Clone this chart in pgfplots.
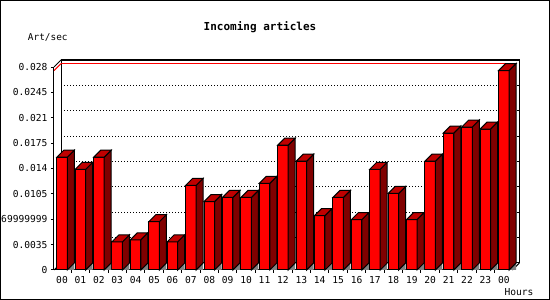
\documentclass[border=0pt]{standalone}
\usepackage{pgfplots}
\pgfplotsset{compat=1.18}
\usepackage{pgfplotstable}
\usepackage{fontspec}
\newfontfamily\monofont{DejaVu Sans Mono}
\definecolor{barfront}{HTML}{FF0000}
\definecolor{bartop}{HTML}{C00000}
\definecolor{barside}{HTML}{800000}
\definecolor{floorgray}{HTML}{808080}
\pgfplotstableread{
x v
0 0.015556
1 0.013889
2 0.015556
3 0.003889
4 0.004167
5 0.006667
6 0.003889
7 0.011667
8 0.009444
9 0.01
10 0.01
11 0.011944
12 0.017222
13 0.015
14 0.0075
15 0.01
16 0.006944
17 0.013889
18 0.010556
19 0.006944
20 0.015
21 0.018889
22 0.019722
23 0.019444
24 0.0275
}\datatable
\newdimen\barH
\newdimen\barHd
\pgfdeclareplotmark{bar3d}{%
  \barH=\pgfplotspointmetatransformed pt\relax
  \barH=0.203\barH
  \barHd=7pt\relax
  \advance\barHd by -\barH
  \pgfsetlinewidth{1pt}%
  \pgfsetstrokecolor{black}%
  \pgfpathmoveto{\pgfqpoint{5.25pt}{-\barH}}%
  \pgfpathlineto{\pgfqpoint{12.25pt}{-\barH}}%
  \pgfpathlineto{\pgfqpoint{12.25pt}{\barHd}}%
  \pgfpathclose
  \pgfsetfillcolor{floorgray}\pgfusepath{fill}%
  \pgfpathmoveto{\pgfqpoint{5.25pt}{0pt}}%
  \pgfpathlineto{\pgfqpoint{12.25pt}{7pt}}%
  \pgfpathlineto{\pgfqpoint{12.25pt}{\barHd}}%
  \pgfpathlineto{\pgfqpoint{5.25pt}{-\barH}}%
  \pgfpathclose
  \pgfsetfillcolor{barside}\pgfusepath{fill,stroke}%
  \pgfpathmoveto{\pgfqpoint{-5.25pt}{0pt}}%
  \pgfpathlineto{\pgfqpoint{5.25pt}{0pt}}%
  \pgfpathlineto{\pgfqpoint{12.25pt}{7pt}}%
  \pgfpathlineto{\pgfqpoint{1.75pt}{7pt}}%
  \pgfpathclose
  \pgfsetfillcolor{bartop}\pgfusepath{fill,stroke}%
}
\begin{document}
\begin{tikzpicture}
\useasboundingbox (0,0) rectangle (550pt,300pt);
\clip (0,0) rectangle (550pt,300pt);
% back wall
\begin{axis}[at={(61pt,37pt)}, anchor=south west, scale only axis,
  width=458.3pt, height=203pt,
  xmin=-0.435, xmax=24.46, ymin=0, ymax=0.028, clip=false,
  axis line style={line width=1pt},
  scaled x ticks=false, scaled y ticks=false,
  xtick=\empty,
  ytick={0.0035,0.007,0.0105,0.014,0.0175,0.021,0.0245},
  yticklabels={}, ytick pos=right, tick align=inside,
  major tick length=2pt, tick style={black, line width=1pt},
  ymajorgrids, grid style={black, line width=1pt, dash pattern=on 1pt off 2pt},
]
\addplot[red, line width=1pt] coordinates {(-0.435,0.0275) (24,0.0275)};
\draw[red, line width=1pt] ([shift={(-7pt,-7pt)}]axis cs:-0.435,0.0275) -- (axis cs:-0.435,0.0275);
\draw[line width=1pt] ([shift={(-7pt,-7pt)}]axis cs:-0.435,0) -- (axis cs:-0.435,0);
\draw[line width=1pt] ([shift={(-7pt,-7pt)}]axis cs:-0.435,0.028) -- (axis cs:-0.435,0.028);
\draw[line width=1pt] ([shift={(-7pt,-7pt)}]axis cs:24.46,0) -- (axis cs:24.46,0);
\end{axis}
% front plane with bars
\begin{axis}[at={(54pt,30pt)}, anchor=south west, scale only axis,
  width=458.3pt, height=203pt,
  xmin=-0.435, xmax=24.46, ymin=0, ymax=0.028, clip=false,
  axis lines=left, axis line style={-, line width=1pt},
  scaled x ticks=false, scaled y ticks=false,
  tick align=outside, major tick length=3pt, minor tick length=3pt,
  tick style={black, line width=1pt},
  xtick={0,...,24},
  xticklabels={00,01,02,03,04,05,06,07,08,09,10,11,12,13,14,15,16,17,18,19,20,21,22,23,00},
  major x tick style={draw=none},
  minor xtick={0.5,1.5,...,23.5},
  ytick={0,0.0035,0.007,0.0105,0.014,0.0175,0.021,0.0245,0.028},
  yticklabels={0,0.0035,0.0069999999,0.0105,0.014,0.0175,0.021,0.0245,0.028},
  tick label style={font=\monofont\fontsize{9.6}{11}\selectfont, text=black},
]
\addplot[ybar, bar width=10.5pt, fill=barfront, draw=black, line width=1pt] table[x=x,y=v]{\datatable};
\addplot[scatter, only marks, mark=bar3d, point meta=explicit,
  point meta min=0, point meta max=0.028] table[x=x,y=v,meta=v]{\datatable};
\end{axis}
\node[font=\monofont\bfseries\fontsize{11}{13}\selectfont] at (260pt,273.3pt) {Incoming articles};
\node[font=\monofont\fontsize{9.4}{11}\selectfont] at (47.8pt,262.7pt) {Art/sec};
\node[font=\monofont\fontsize{9.6}{11}\selectfont] at (519pt,8.3pt) {Hours};
\draw[line width=1pt] (0.5pt,0.5pt) rectangle (549.5pt,299.5pt);
\end{tikzpicture}
\end{document}
